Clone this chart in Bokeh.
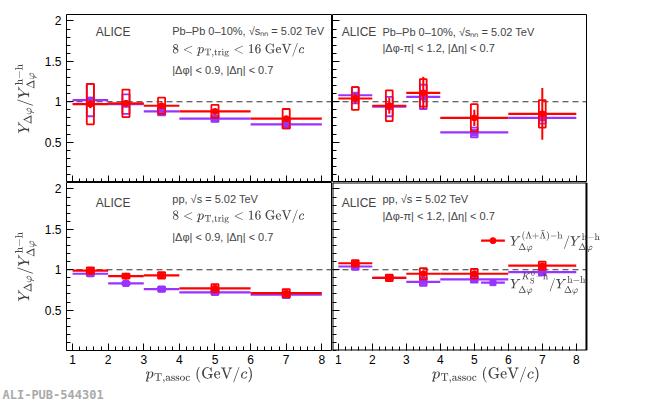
from bokeh.plotting import figure
from bokeh.layouts import gridplot
from bokeh.models import Range1d, FixedTicker, Label, Title
from bokeh.embed import file_html
from bokeh.resources import INLINE

bin_lo = [1, 2, 3, 4, 6]
bin_hi = [2, 3, 4, 6, 8]
bin_c = [1.5, 2.5, 3.5, 5, 7]

# top-left: Pb-Pb near side
tl_lam = [0.97, 0.98, 0.95, 0.88, 0.79]
tl_lam_stat = [0.05, 0.04, 0.03, 0.02, 0.03]
tl_lam_sys = [0.25, 0.17, 0.10, 0.08, 0.12]
tl_k0 = [1.02, 0.97, 0.88, 0.79, 0.72]
tl_k0_stat = [0.02, 0.02, 0.01, 0.01, 0.01]
tl_k0_sys = [0.20, 0.12, 0.05, 0.04, 0.05]
# top-right: Pb-Pb away side
tr_lam = [1.04, 0.95, 1.11, 0.80, 0.85]
tr_lam_stat = [0.06, 0.10, 0.20, 0.10, 0.32]
tr_lam_sys = [0.14, 0.19, 0.17, 0.17, 0.17]
tr_k0 = [1.08, 0.94, 1.06, 0.62, 0.80]
tr_k0_stat = [0.03, 0.05, 0.06, 0.03, 0.04]
tr_k0_sys = [0.10, 0.12, 0.15, 0.06, 0.07]
# bottom-left: pp near side
bl_lam = [0.99, 0.92, 0.93, 0.77, 0.71]
bl_lam_stat = [0.02, 0.01, 0.01, 0.01, 0.01]
bl_lam_sys = [0.04, 0.03, 0.04, 0.05, 0.05]
bl_k0 = [0.95, 0.83, 0.76, 0.72, 0.69]
bl_k0_stat = [0.01, 0.01, 0.01, 0.01, 0.01]
bl_k0_sys = [0.03, 0.02, 0.03, 0.03, 0.04]
# bottom-right: pp away side
br_lam = [1.08, 0.90, 0.95, 0.95, 1.05]
br_lam_stat = [0.02, 0.02, 0.02, 0.02, 0.02]
br_lam_sys = [0.04, 0.04, 0.07, 0.06, 0.05]
br_k0 = [1.04, 0.90, 0.85, 0.88, 0.97]
br_k0_stat = [0.01, 0.01, 0.01, 0.01, 0.01]
br_k0_sys = [0.04, 0.03, 0.05, 0.04, 0.04]

x_ticks = [1, 2, 3, 4, 5, 6, 7, 8]
y_ticks = [0.5, 1, 1.5, 2]

RED = "#ff0000"
PUR = "#9933ff"
FONT = "Liberation Sans"
XMIN, XMAX, YMAX = 0.83, 8.3, 2.08
XEXT = 9.86

def make(left, bottom, extended=False):
    fw = 266 if left else 254
    xmax = XMAX
    mbr = 0 if left else 62
    if extended:
        fw = 254 + 53
        xmax = XEXT
        mbr = 9
    p = figure(frame_width=fw, frame_height=168,
               x_range=Range1d(XMIN, xmax), y_range=Range1d(0, YMAX),
               output_backend="svg", toolbar_location=None,
               min_border_left=66 if left else 0, min_border_right=mbr,
               min_border_top=14 if not bottom else 0, min_border_bottom=0)
    p.grid.visible = False
    p.outline_line_color = None if extended else "black"
    p.xaxis.ticker = FixedTicker(ticks=x_ticks, minor_ticks=[x / 5 for x in range(5, 41)])
    p.yaxis.ticker = FixedTicker(ticks=y_ticks, minor_ticks=[x / 10 for x in range(0, 21)])
    for ax in (p.xaxis[0], p.yaxis[0]):
        ax.major_tick_in = 7
        ax.major_tick_out = 0
        ax.minor_tick_in = 4
        ax.minor_tick_out = 0
        ax.axis_line_color = None
        ax.major_label_text_font = FONT
        ax.major_label_text_font_size = "12px"
        ax.major_label_text_color = "black"
    if not left:
        p.yaxis.major_label_overrides = {t: "" for t in y_ticks}
        p.yaxis.major_label_standoff = 0
    else:
        p.yaxis.axis_label = r"$$Y_{\Delta\varphi}/Y^{\mathrm{h-h}}_{\Delta\varphi}$$"
        p.yaxis.axis_label_text_font_size = "12px"
    if not bottom:
        p.xaxis.major_label_overrides = {t: "" for t in x_ticks}
        p.xaxis.major_label_standoff = 0
    else:
        p.xaxis.axis_label = r"$$p_{\mathrm{T,assoc}}\ (\mathrm{GeV}/c)$$"
        p.xaxis.axis_label_text_font_size = "12px"
        p.xaxis.axis_label_standoff = 0
        p.xaxis.major_label_standoff = 4
    p.segment(x0=[XMIN], x1=[XMAX], y0=[1], y1=[1], line_dash="6 4", line_color="#333333", line_width=1.2)
    if extended:
        p.segment(x0=[XMIN, XMIN, XMIN, XMAX], x1=[XMAX, XMAX, XMIN, XMAX],
                  y0=[0, YMAX, 0, 0], y1=[0, YMAX, YMAX, YMAX], line_color="black", line_width=2)
    return p

def series(p, vals, stat, sys, color, marker):
    p.rect(x=bin_c, y=vals, width=0.2, height=[2 * s for s in sys], fill_color=None,
           line_color=color, line_width=1.8)
    p.segment(x0=bin_lo, x1=bin_hi, y0=vals, y1=vals, line_color=color, line_width=2.2)
    p.segment(x0=bin_c, x1=bin_c, y0=[v - s for v, s in zip(vals, stat)],
              y1=[v + s for v, s in zip(vals, stat)], line_color=color, line_width=2)
    p.scatter(x=bin_c, y=vals, marker=marker, size=6, color=color)

def txt(p, x, y, t, size="11px"):
    p.add_layout(Label(x=x, y=y, text=t, text_font=FONT, text_font_size=size,
                       text_baseline="middle"))

tl = make(True, False)
tr = make(False, False)
bl = make(True, True)
br = make(False, True, extended=True)

for p, d in ((tl, (tl_k0, tl_k0_stat, tl_k0_sys, tl_lam, tl_lam_stat, tl_lam_sys)),
             (tr, (tr_k0, tr_k0_stat, tr_k0_sys, tr_lam, tr_lam_stat, tr_lam_sys)),
             (bl, (bl_k0, bl_k0_stat, bl_k0_sys, bl_lam, bl_lam_stat, bl_lam_sys)),
             (br, (br_k0, br_k0_stat, br_k0_sys, br_lam, br_lam_stat, br_lam_sys))):
    series(p, d[0], d[1], d[2], PUR, "square")
    series(p, d[3], d[4], d[5], RED, "circle")

ptrig = r"$$8 < p_{\mathrm{T,trig}} < 16\ \mathrm{GeV}/c$$"
txt(tl, 1.65, 1.86, "ALICE", "12px")
txt(tl, 3.8, 1.88, "Pb–Pb 0–10%, √s\u2099\u2099 = 5.02 TeV")
txt(tl, 3.8, 1.64, ptrig)
txt(tl, 3.8, 1.39, "|Δφ| < 0.9, |Δη| < 0.7")
txt(tr, 1.1, 1.86, "ALICE", "12px")
txt(tr, 2.3, 1.86, "Pb–Pb 0–10%, √s\u2099\u2099 = 5.02 TeV")
txt(tr, 2.3, 1.67, "|Δφ-π| < 1.2, |Δη| < 0.7")
txt(bl, 1.65, 1.83, "ALICE", "12px")
txt(bl, 3.8, 1.88, "pp, √s = 5.02 TeV")
txt(bl, 3.8, 1.66, ptrig)
txt(bl, 3.8, 1.40, "|Δφ| < 0.9, |Δη| < 0.7")
txt(br, 1.1, 1.83, "ALICE", "12px")
txt(br, 2.3, 1.88, "pp, √s = 5.02 TeV")
txt(br, 2.3, 1.67, "|Δφ-π| < 1.2, |Δη| < 0.7")

# legend
br.segment(x0=[5.2], x1=[5.9], y0=[1.36], y1=[1.36], line_color=RED, line_width=2.2)
br.scatter(x=[5.55], y=[1.36], marker="circle", size=6, color=RED)
br.segment(x0=[5.2], x1=[5.9], y0=[0.84], y1=[0.84], line_color=PUR, line_width=2.2)
br.scatter(x=[5.55], y=[0.84], marker="square", size=6, color=PUR)
br.add_layout(Label(x=6.05, y=1.36, text=r"$$Y^{(\Lambda+\bar{\Lambda})\mathrm{-h}}_{\Delta\varphi}/Y^{\mathrm{h-h}}_{\Delta\varphi}$$",
                    text_font_size="10px", text_baseline="middle"))
br.add_layout(Label(x=6.05, y=0.84, text=r"$$Y^{K^0_{\mathrm{S}}\mathrm{-h}}_{\Delta\varphi}/Y^{\mathrm{h-h}}_{\Delta\varphi}$$",
                    text_font_size="10px", text_baseline="middle"))

bl.add_layout(Title(text="ALI-PUB-544301", text_font="DejaVu Sans Mono", text_font_style="bold",
                    text_font_size="12px", text_color="#aaaaaa", align="left", offset=-64,
                    standoff=0), "below")

grid = gridplot([[tl, tr], [bl, br]], toolbar_location=None)
open("out.html", "w").write(file_html(grid, INLINE))
